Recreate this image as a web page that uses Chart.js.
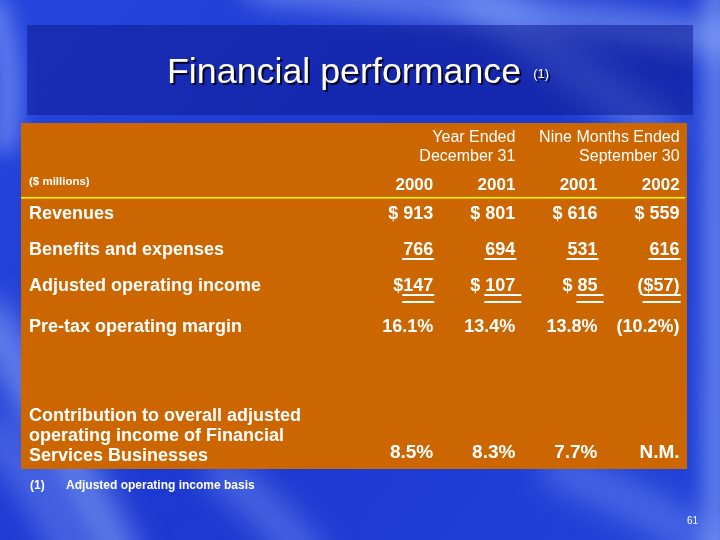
<!DOCTYPE html>
<html>
<head>
<meta charset="utf-8">
<script src="https://cdn.jsdelivr.net/npm/chart.js@4/dist/chart.umd.min.js"></script>
<style>
html,body{margin:0;padding:0;background:#1f3fd6;overflow:hidden;}
#c{display:block;}
</style>
</head>
<body>
<canvas id="c" width="720" height="540"></canvas>
<script>
// ---------------- DATA ----------------
const titleText = 'Financial performance';
const titleNote = '(1)';
const unitsLabel = '($ millions)';
const periodHeaders = [['Year Ended', 'December 31'], ['Nine Months Ended', 'September 30']];
const columnYears = ['2000', '2001', '2001', '2002'];
const rowLabels = [
  'Revenues',
  'Benefits and expenses',
  'Adjusted operating income',
  'Pre-tax operating margin',
  ['Contribution to overall adjusted', 'operating income of Financial', 'Services Businesses']
];
const revenues = [913, 801, 616, 559];
const benefits = [766, 694, 531, 616];
const adjustedIncome = [147, 107, 85, -57];
const adjustedIncomeLabels = [['$', '147'], ['$ ', '107 '], ['$ ', '85 '], ['(', '$57)']];
const pretaxMargin = [16.1, 13.4, 13.8, -10.2];
const contribution = [8.5, 8.3, 7.7, null];
const footnote = ['(1)', 'Adjusted operating income basis'];
const pageNumber = '61';

// ---------------- LAYOUT / STYLE ----------------
const FONT = '"Liberation Sans", Arial, Helvetica, sans-serif';
const ORANGE = '#cc6600';
const ROW_Y = { head1: 19, head2: 38, units: 62, years: 67, rule: 74, revenues: 96, benefits: 132,
  adjusted: 168, pretax: 209, contrib: [298, 318, 338], contribVal: 335, footnote: 366, page: 401,
  title: -40, bandTop: -98, bandBottom: -8 };

const fmtMoney = v => '$ ' + v;
const fmtPct = v => v === null ? 'N.M.' : (v < 0 ? '(' + Math.abs(v).toFixed(1) + '%)' : v.toFixed(1) + '%');

function cellPoints(values, rowY) {
  return values.map((v, i) => ({ x: i + 1, y: rowY }));
}

const datasets = [
  { key: 'years', data: cellPoints(columnYears, ROW_Y.years), cells: columnYears.map(t => ['', t]), font: 'bold 17px ' + FONT, underline: 0 },
  { key: 'revenues', label: rowLabels[0], data: cellPoints(revenues, ROW_Y.revenues), cells: revenues.map(v => ['', fmtMoney(v)]), font: 'bold 18px ' + FONT, underline: 0 },
  { key: 'benefits', label: rowLabels[1], data: cellPoints(benefits, ROW_Y.benefits), cells: benefits.map(v => ['', String(v)]), font: 'bold 18px ' + FONT, underline: 1 },
  { key: 'adjusted', label: rowLabels[2], data: cellPoints(adjustedIncome, ROW_Y.adjusted), cells: adjustedIncomeLabels, font: 'bold 18px ' + FONT, underline: 2 },
  { key: 'pretax', label: rowLabels[3], data: cellPoints(pretaxMargin, ROW_Y.pretax), cells: pretaxMargin.map(v => ['', fmtPct(v)]), font: 'bold 18px ' + FONT, underline: 0 },
  { key: 'contrib', label: rowLabels[4], data: cellPoints(contribution, ROW_Y.contribVal), cells: contribution.map(v => ['', fmtPct(v)]), font: 'bold 19px ' + FONT, underline: 0 }
].map(d => Object.assign(d, { pointRadius: 0, pointHoverRadius: 0, showLine: false }));

function drawBackground(ctx, w, h) {
  const g = ctx.createLinearGradient(0, 0, w, h);
  g.addColorStop(0, '#2546dc');
  g.addColorStop(0.5, '#1c38d0');
  g.addColorStop(1, '#2143d8');
  ctx.fillStyle = g;
  ctx.fillRect(0, 0, w, h);
  ctx.save();
  ctx.lineCap = 'round';
  const streak = (pts, width, color, blur) => {
    ctx.filter = 'blur(' + blur + 'px)';
    ctx.beginPath();
    ctx.moveTo(pts[0][0], pts[0][1]);
    if (pts.length === 3) ctx.quadraticCurveTo(pts[1][0], pts[1][1], pts[2][0], pts[2][1]);
    else ctx.lineTo(pts[1][0], pts[1][1]);
    ctx.strokeStyle = color;
    ctx.lineWidth = width;
    ctx.stroke();
  };
  streak([[260, -15], [480, 5], [740, 40]], 34, 'rgba(150,180,255,0.55)', 14);
  streak([[470, -10], [560, 60], [660, 130]], 40, 'rgba(140,170,255,0.45)', 16);
  streak([[716, -10], [716, 550]], 26, 'rgba(150,180,255,0.55)', 10);
  streak([[-5, 10], [15, 70], [5, 140]], 26, 'rgba(150,180,255,0.5)', 10);
  streak([[-10, 320], [50, 420], [120, 560]], 40, 'rgba(160,190,255,0.55)', 16);
  streak([[-10, 430], [40, 490], [70, 560]], 30, 'rgba(140,170,255,0.4)', 14);
  streak([[220, 470], [270, 510], [310, 560]], 34, 'rgba(150,180,255,0.4)', 16);
  streak([[560, 470], [640, 500], [730, 560]], 36, 'rgba(140,170,255,0.4)', 16);
  ctx.restore();
}

function textW(ctx, t) { return ctx.measureText(t).width; }

const slidePlugin = {
  id: 'slide',
  beforeDraw(chart) {
    const { ctx, chartArea: a, scales: { x, y } } = chart;
    ctx.save();
    drawBackground(ctx, chart.width, chart.height);
    // title band
    const bt = y.getPixelForValue(ROW_Y.bandTop), bb = y.getPixelForValue(ROW_Y.bandBottom);
    ctx.fillStyle = 'rgba(12,22,140,0.5)';
    ctx.fillRect(a.left + 6, bt, a.right - a.left, bb - bt);
    // title
    ctx.font = '35.8px ' + FONT;
    ctx.textBaseline = 'alphabetic';
    const tw = textW(ctx, titleText);
    const tx = 167, ty = y.getPixelForValue(ROW_Y.title);
    ctx.fillStyle = '#ffffff';
    ctx.shadowColor = 'rgba(0,0,30,0.95)';
    ctx.shadowOffsetX = 2; ctx.shadowOffsetY = 2; ctx.shadowBlur = 0;
    ctx.textAlign = 'left';
    ctx.fillText(titleText, tx, ty);
    ctx.font = '13px ' + FONT;
    ctx.fillText(titleNote, tx + tw + 12, ty - 5);
    ctx.shadowColor = 'transparent'; ctx.shadowOffsetX = 0; ctx.shadowOffsetY = 0;
    // orange panel
    ctx.fillStyle = ORANGE;
    ctx.fillRect(a.left, a.top, a.right - a.left, a.bottom - a.top);
    // yellow rule
    ctx.fillStyle = '#ffff00';
    ctx.fillRect(a.left, y.getPixelForValue(ROW_Y.rule), a.right - a.left - 2, 1.5);
    ctx.restore();
  },
  afterDatasetsDraw(chart) {
    const { ctx, chartArea: a, scales: { x, y } } = chart;
    ctx.save();
    ctx.fillStyle = '#ffffff';
    ctx.textBaseline = 'alphabetic';
    const labelX = a.left + 8;
    // period headers (right-aligned on columns 2 and 4)
    ctx.font = '16px ' + FONT;
    ctx.textAlign = 'right';
    periodHeaders.forEach((lines, i) => {
      const px = x.getPixelForValue(2 * i + 2);
      ctx.fillText(lines[0], px, y.getPixelForValue(ROW_Y.head1));
      ctx.fillText(lines[1], px, y.getPixelForValue(ROW_Y.head2));
    });
    // units label
    ctx.textAlign = 'left';
    ctx.font = 'bold 11.5px ' + FONT;
    ctx.fillText(unitsLabel, labelX, y.getPixelForValue(ROW_Y.units));
    // rows
    chart.data.datasets.forEach((ds, di) => {
      const meta = chart.getDatasetMeta(di);
      ctx.font = ds.font;
      meta.data.forEach((el, i) => {
        const [pre, main] = ds.cells[i];
        const full = pre + main;
        const trimmed = full.replace(/\s+$/, '');
        ctx.textAlign = 'left';
        const sx = el.x - textW(ctx, trimmed);
        ctx.fillText(trimmed, sx, el.y);
        if (ds.underline) {
          const u0 = sx + textW(ctx, pre) - 1;
          const u1 = sx + textW(ctx, full) + 1;
          ctx.fillRect(u0, el.y + 3, u1 - u0, 2);
          if (ds.underline === 2) ctx.fillRect(u0, el.y + 10, u1 - u0, 2);
        }
      });
      if (ds.label) {
        ctx.textAlign = 'left';
        ctx.font = 'bold 18px ' + FONT;
        if (Array.isArray(ds.label)) {
          ds.label.forEach((line, k) => ctx.fillText(line, labelX, y.getPixelForValue(ROW_Y.contrib[k])));
        } else {
          ctx.fillText(ds.label, labelX, meta.data[0].y);
        }
      }
    });
    // footnote
    ctx.textAlign = 'left';
    ctx.font = 'bold 12px ' + FONT;
    const fy = y.getPixelForValue(ROW_Y.footnote);
    ctx.fillText(footnote[0], labelX + 1, fy);
    ctx.fillText(footnote[1], labelX + 37, fy);
    // page number
    ctx.font = '10px ' + FONT;
    ctx.textAlign = 'right';
    ctx.fillText(pageNumber, a.right + 11, y.getPixelForValue(ROW_Y.page));
    ctx.restore();
  }
};

new Chart(document.getElementById('c'), {
  type: 'scatter',
  data: { datasets },
  options: {
    responsive: false,
    animation: false,
    events: [],
    devicePixelRatio: 1,
    layout: { padding: { left: 21, right: 33, top: 123, bottom: 71 } },
    plugins: { legend: { display: false }, tooltip: { enabled: false }, title: { display: false } },
    scales: {
      x: { type: 'linear', display: false, min: -4.02, max: 4.09 },
      y: { type: 'linear', display: false, reverse: true, min: 0, max: 346 }
    }
  },
  plugins: [slidePlugin]
});
</script>
</body>
</html>
